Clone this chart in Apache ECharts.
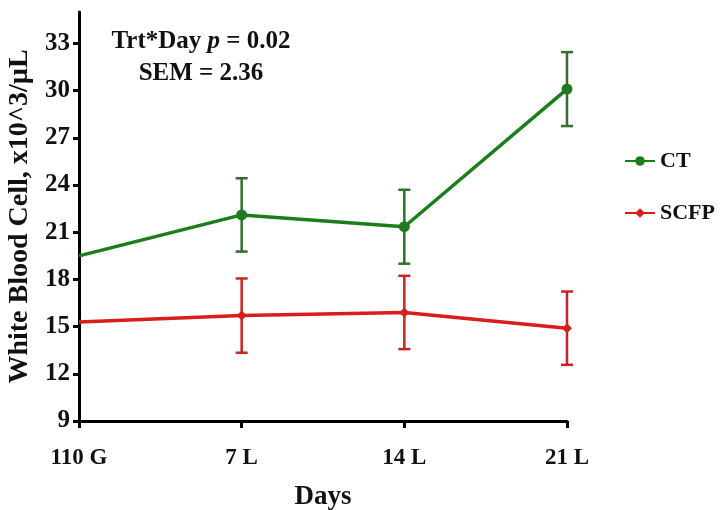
<!DOCTYPE html>
<html>
<head>
<meta charset="utf-8">
<script src="https://cdn.jsdelivr.net/npm/echarts@6/dist/echarts.min.js"></script>
<style>html,body{margin:0;padding:0;background:#fff;}#c{width:722px;height:510px;}</style>
</head>
<body>
<div id="c"></div>
<script>
var categories = ['110 G', '7 L', '14 L', '21 L'];
var ctValues = [19.5, 22.1, 21.35, 30.1];
var scfpValues = [15.3, 15.7, 15.9, 14.9];
var ctErr = [null, 2.33, 2.35, 2.35];
var scfpErr = [null, 2.36, 2.33, 2.33];
var yTicks = [9, 12, 15, 18, 21, 24, 27, 30, 33];

var FONT = 'Liberation Serif';
var GREEN = '#1b7d1b';
var GREEN_ERR = '#2f6f2f';
var RED = '#d91c1c';
var RED_ERR = '#c92424';

function errData(vals, errs) {
  var out = [];
  for (var i = 0; i < vals.length; i++) {
    if (errs[i] != null) out.push([i, vals[i] - errs[i], vals[i] + errs[i]]);
  }
  return out;
}

function errRender(color) {
  return function (params, api) {
    var x = api.value(0);
    var lo = api.coord([x, api.value(1)]);
    var hi = api.coord([x, api.value(2)]);
    var half = 6;
    var st = { stroke: color, lineWidth: 2.5 };
    return {
      type: 'group',
      children: [
        { type: 'line', shape: { x1: lo[0], y1: lo[1], x2: hi[0], y2: hi[1] }, style: st },
        { type: 'line', shape: { x1: lo[0] - half, y1: lo[1], x2: lo[0] + half, y2: lo[1] }, style: st },
        { type: 'line', shape: { x1: hi[0] - half, y1: hi[1], x2: hi[0] + half, y2: hi[1] }, style: st }
      ]
    };
  };
}

function lineData(vals) {
  return vals.map(function (v, i) {
    return i === 0 ? { value: v, symbolSize: 0 } : v;
  });
}

var chart = echarts.init(document.getElementById('c'));
chart.setOption({
  animation: false,
  backgroundColor: '#fff',
  grid: { left: 79, right: 155, top: 12, bottom: 89, containLabel: false, outerBoundsMode: 'none' },
  legend: {
    orient: 'vertical',
    left: 619,
    top: 145,
    itemWidth: 30,
    itemHeight: 12,
    itemGap: 30,
    textStyle: { fontFamily: FONT, fontWeight: 'bold', fontSize: 22, color: '#111' },
    data: ['CT', 'SCFP']
  },
  xAxis: {
    type: 'category',
    data: categories,
    boundaryGap: false,
    name: 'Days',
    nameLocation: 'middle',
    nameGap: 63,
    nameTextStyle: { fontFamily: FONT, fontWeight: 'bold', fontSize: 27, color: '#111' },
    axisLine: { lineStyle: { color: '#000', width: 3 } },
    axisTick: { alignWithLabel: true, length: 7, lineStyle: { color: '#000', width: 3 } },
    axisLabel: { fontFamily: FONT, fontWeight: 'bold', fontSize: 23, color: '#111', margin: 26 },
    splitLine: { show: false }
  },
  yAxis: {
    type: 'value',
    min: 9,
    max: 35,
    interval: 3,
    name: 'White Blood Cell, x10^3/µL',
    nameLocation: 'middle',
    nameGap: 44,
    nameTextStyle: { fontFamily: FONT, fontWeight: 'bold', fontSize: 28, color: '#111' },
    axisLine: { show: true, lineStyle: { color: '#000', width: 3 } },
    axisTick: { show: true, length: 6, customValues: yTicks, lineStyle: { color: '#000', width: 3 } },
    axisLabel: { fontFamily: FONT, fontWeight: 'bold', fontSize: 25, color: '#111', margin: 9, customValues: yTicks },
    splitLine: { show: false }
  },
  graphic: [
    {
      type: 'text',
      x: 201,
      y: 42,
      style: {
        text: '{a|Trt*Day }{p|p}{a| = 0.02}',
        align: 'center',
        verticalAlign: 'middle',
        rich: {
          a: { fontFamily: FONT, fontWeight: 'bold', fontSize: 25, fill: '#111' },
          p: { fontFamily: FONT, fontWeight: 'bold', fontStyle: 'italic', fontSize: 25, fill: '#111' }
        }
      }
    },
    {
      type: 'text',
      x: 201,
      y: 74,
      style: { text: 'SEM = 2.36', align: 'center', verticalAlign: 'middle', fontFamily: FONT, fontWeight: 'bold', fontSize: 25, fill: '#111' }
    }
  ],
  series: [
    {
      name: 'CT',
      type: 'line',
      data: lineData(ctValues),
      symbol: 'circle',
      symbolSize: 11,
      color: GREEN,
      lineStyle: { width: 3.5, color: GREEN },
      itemStyle: { color: GREEN },
      z: 3
    },
    {
      name: 'SCFP',
      type: 'line',
      data: lineData(scfpValues),
      symbol: 'diamond',
      symbolSize: 10,
      color: RED,
      lineStyle: { width: 3.5, color: RED },
      itemStyle: { color: RED },
      z: 3
    },
    {
      type: 'custom',
      renderItem: errRender(GREEN_ERR),
      data: errData(ctValues, ctErr),
      encode: { x: 0, y: [1, 2] },
      z: 4,
      silent: true
    },
    {
      type: 'custom',
      renderItem: errRender(RED_ERR),
      data: errData(scfpValues, scfpErr),
      encode: { x: 0, y: [1, 2] },
      z: 4,
      silent: true
    }
  ]
});
</script>
</body>
</html>
